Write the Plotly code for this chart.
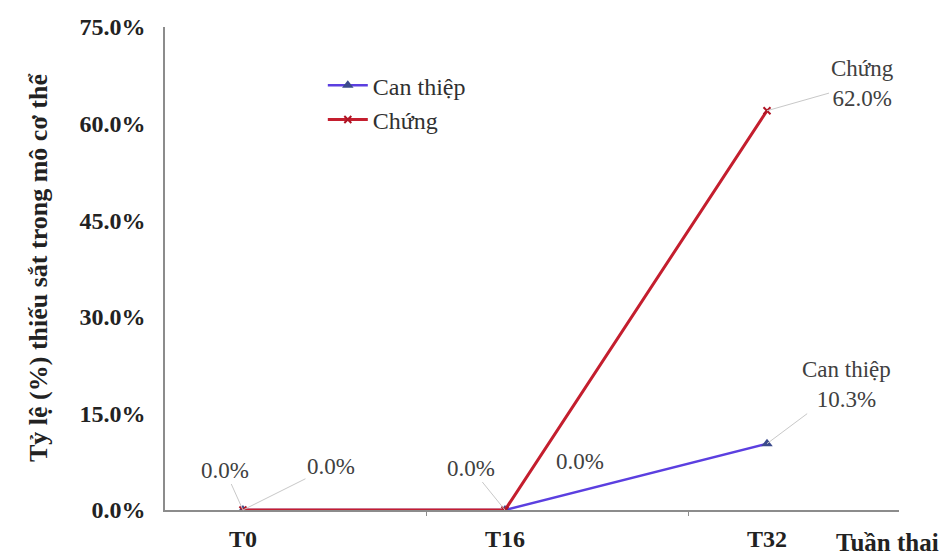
import plotly.graph_objects as go

weeks = [0, 16, 32]
tick_labels = ["T0", "T16", "T32"]
can_thiep = [0.0, 0.0, 10.3]
chung = [0.0, 0.0, 62.0]
y_ticks = [0, 15, 30, 45, 60, 75]
y_tick_text = [f"{v:.1f}%" for v in y_ticks]

SERIF = "Liberation Serif, Times New Roman, DejaVu Serif, serif"
BLUE = "#5B3FE0"
BLUE_MK = "#3B4A8C"
RED = "#C41E2E"
RED_MK = "#B01525"

fig = go.Figure()
fig.add_trace(go.Scatter(
    x=weeks, y=can_thiep, mode="lines+markers", name="Can thiệp",
    line=dict(color=BLUE, width=2.5),
    marker=dict(symbol="triangle-up", size=10, color=BLUE_MK),
))
fig.add_trace(go.Scatter(
    x=weeks, y=chung, mode="lines+markers", name="Chứng",
    line=dict(color=RED, width=3),
    marker=dict(symbol="x-thin", size=7, color=RED_MK, line=dict(color=RED_MK, width=2)),
))

label_font = dict(family=SERIF, size=23, color="#404040")
lead = "#C8C8C8"

# (x, y, text, ax, ay, showarrow)
labels = [
    (weeks[0], can_thiep[0], f"{can_thiep[0]:.1f}%", -18, -40, True),
    (weeks[0], chung[0], f"{chung[0]:.1f}%", 88, -44, True),
    (weeks[1], can_thiep[1], f"{can_thiep[1]:.1f}%", -34, -42, True),
    (weeks[1], chung[1], f"{chung[1]:.1f}%", 75, -49, False),
    (weeks[2], chung[2], f"Chứng<br>{chung[2]:.1f}%", 95, -27, True),
    (weeks[2], can_thiep[2], f"Can thiệp<br>{can_thiep[2]:.1f}%", 79, -59, True),
]
for x, y, t, ax, ay, arr in labels:
    if arr:
        fig.add_annotation(x=x, y=y, text=t, showarrow=True, arrowhead=0,
                           arrowwidth=1, arrowcolor=lead, ax=ax, ay=ay,
                           font=label_font, align="center")
    else:
        fig.add_annotation(x=x, y=y, text=t, showarrow=False,
                           xanchor="center", yanchor="middle",
                           xshift=ax, yshift=-ay, font=label_font)

fig.add_annotation(
    xref="paper", yref="paper", x=-0.173, y=0.501,
    xanchor="center", yanchor="middle",
    text="Tỷ lệ (%) thiếu sắt trong mô cơ thể", textangle=-90, showarrow=False,
    font=dict(family=SERIF, size=26, color="#222222", weight="bold"),
)
fig.add_annotation(
    xref="paper", yref="paper", x=0.984, y=-0.068,
    xanchor="center", yanchor="middle",
    text="Tuần thai", showarrow=False,
    font=dict(family=SERIF, size=25, color="#222222", weight="bold"),
)

fig.update_layout(
    width=945, height=558,
    margin=dict(l=165, r=46, t=27, b=48, autoexpand=False),
    paper_bgcolor="white", plot_bgcolor="white",
    showlegend=True,
    legend=dict(x=0.215, y=0.925, xanchor="left", yanchor="top",
                font=dict(family=SERIF, size=24, color="#303030"),
                bgcolor="rgba(0,0,0,0)", tracegroupgap=4, itemwidth=40),
    xaxis=dict(
        range=[-4.76, 40.06], tickvals=weeks, ticktext=tick_labels,
        showline=True, linecolor="#8C8C8C", linewidth=1.5, showgrid=False,
        zeroline=False, ticks="", ticklabelstandoff=6, automargin=False,
        tickfont=dict(family=SERIF, size=24, color="#222222", weight="bold"),
        minor=dict(tickvals=[11.2, 27.2], ticks="outside", ticklen=4,
                   tickcolor="#8C8C8C", showgrid=False),
    ),
    yaxis=dict(
        range=[0, 75], tickvals=y_ticks, ticktext=y_tick_text,
        showline=True, linecolor="#8C8C8C", linewidth=1.5, showgrid=False,
        zeroline=False, ticks="", ticklabelstandoff=13, automargin=False,
        tickfont=dict(family=SERIF, size=24, color="#222222", weight="bold"),
    ),
)

fig.write_html("out.html")
